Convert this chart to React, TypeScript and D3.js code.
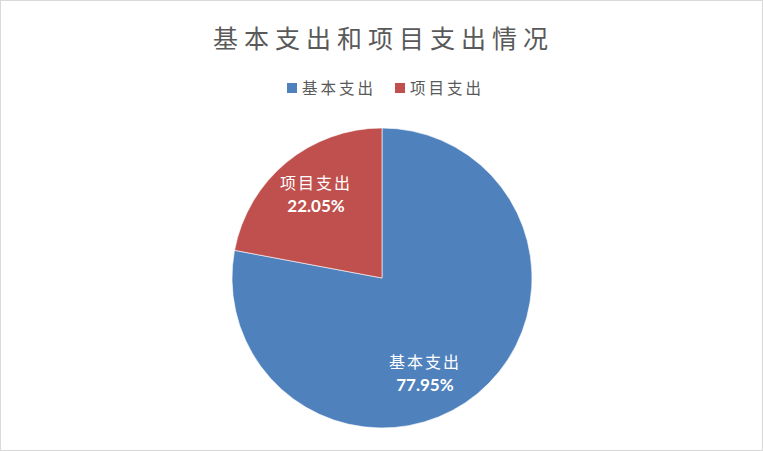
import React from 'react';
import * as d3 from 'd3';

const categories = ['基本支出', '项目支出'];
const values = [77.95, 22.05];
const colors = ['#4F81BD', '#C0504D'];
const chartTitle = '基本支出和项目支出情况';

const W = 763;
const H = 451;
const cx = 382;
const cy = 278;
const R = 150;

// small nudges so labels land where Excel's best-fit put them
const labelNudge = [
  [-26, 12],
  [3, -1],
];

const App: React.FC = () => {
  const pie = d3.pie<number>().sort(null).value(d => d);
  const arcs = pie(values);
  const arc = d3.arc<d3.PieArcDatum<number>>().innerRadius(0).outerRadius(R);
  const labelArc = d3.arc<d3.PieArcDatum<number>>().innerRadius(R * 0.72).outerRadius(R * 0.72);

  const cjk = '"Noto Sans CJK SC", "Microsoft YaHei", sans-serif';

  return (
    <div style={{ position: 'fixed', left: 0, top: 0 }}>
      <svg width={W} height={H} style={{ display: 'block' }}>
        <rect x={0.5} y={0.5} width={W - 1} height={H - 1} fill="#fff" stroke="#d9d9d9" />
        <text
          x={W / 2 + 2}
          y={48}
          textAnchor="middle"
          fontFamily={cjk}
          fontSize={25}
          letterSpacing={6}
          fill="#595959"
        >
          {chartTitle}
        </text>

        {/* legend */}
        <g fontFamily={cjk} fontSize={15.5} fill="#595959">
          {categories.map((c, i) => {
            const x0 = 287 + i * 108;
            return (
              <g key={c} transform={`translate(${x0},0)`}>
                <rect x={0} y={83} width={10} height={10} fill={colors[i]} />
                <text x={15} y={94} letterSpacing={3}>{c}</text>
              </g>
            );
          })}
        </g>

        <g transform={`translate(${cx},${cy})`}>
          {arcs.map((a, i) => (
            <path key={i} d={arc(a) || ''} fill={colors[i]} stroke="#fff" strokeWidth={0.6} />
          ))}
          {arcs.map((a, i) => {
            const [lx, ly] = labelArc.centroid(a);
            const x = lx + labelNudge[i][0];
            const y = ly + labelNudge[i][1];
            return (
              <g key={`l${i}`} fill="#fff" textAnchor="middle">
                <text x={x} y={y - 5} fontFamily={cjk} fontSize={16} letterSpacing={2}>
                  {categories[i]}
                </text>
                <text x={x} y={y + 18} fontFamily="Lato, 'Open Sans', sans-serif" fontWeight="bold" fontSize={17}>
                  {values[i].toFixed(2)}%
                </text>
              </g>
            );
          })}
        </g>
      </svg>
    </div>
  );
};

export default App;
